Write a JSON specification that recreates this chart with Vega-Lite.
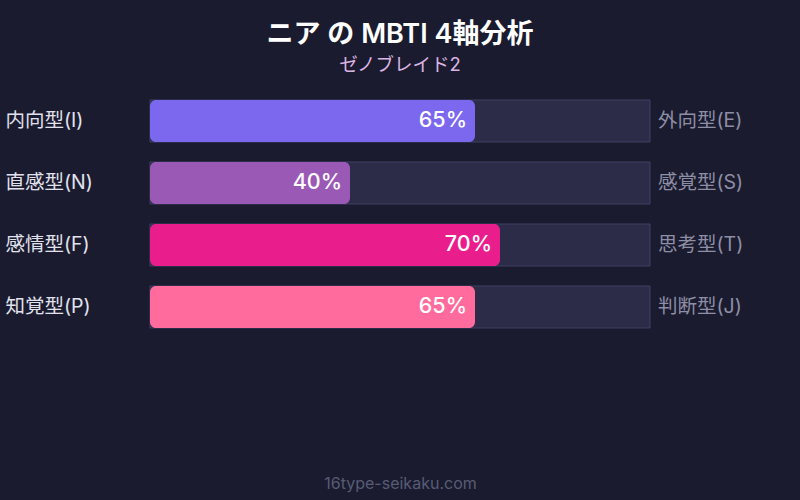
{
  "$schema": "https://vega.github.io/schema/vega-lite/v6.json",
  "width": 500,
  "height": 248,
  "autosize": {"type": "none"},
  "padding": {"left": 150, "top": 90, "right": 150, "bottom": 162},
  "background": "#1a1b2e",
  "title": {
    "text": "ニア の MBTI 4軸分析",
    "subtitle": "ゼノブレイド2",
    "anchor": "middle",
    "frame": "group",
    "font": "Inter, Noto Sans CJK JP",
    "fontSize": 27,
    "fontWeight": 600,
    "color": "#ffffff",
    "subtitleFont": "Inter, Noto Sans CJK JP",
    "subtitleFontSize": 18.5,
    "subtitleColor": "#dcb4e4",
    "subtitlePadding": 7,
    "offset": 15
  },
  "data": {
    "values": [
      {"left": "内向型(I)", "right": "外向型(E)", "value": 65, "label": "65%", "color": "#7b68ee"},
      {"left": "直感型(N)", "right": "感覚型(S)", "value": 40, "label": "40%", "color": "#9b59b6"},
      {"left": "感情型(F)", "right": "思考型(T)", "value": 70, "label": "70%", "color": "#e91e8c"},
      {"left": "知覚型(P)", "right": "判断型(J)", "value": 65, "label": "65%", "color": "#ff6b9d"}
    ]
  },
  "encoding": {
    "y": {
      "field": "left",
      "type": "nominal",
      "sort": null,
      "scale": {"paddingInner": 0.3226, "paddingOuter": 0.1613},
      "axis": {
        "title": null,
        "domain": false,
        "ticks": false,
        "tickSize": 0,
        "labelAlign": "left",
        "labelPadding": 145,
        "labelFont": "Inter, Noto Sans CJK JP",
        "labelFontSize": 19.5,
        "labelColor": "#e2e2ee"
      }
    }
  },
  "layer": [
    {
      "mark": {"type": "bar", "fill": "#2c2b48", "stroke": "#3f4163", "strokeWidth": 1},
      "encoding": {
        "x": {
          "datum": 0,
          "type": "quantitative",
          "scale": {"domain": [0, 100], "nice": false},
          "axis": {
            "title": "16type-seikaku.com",
            "titleFont": "Inter, Noto Sans CJK JP",
            "titleFontSize": 16,
            "titleFontWeight": "normal",
            "titleColor": "#585b76",
            "titlePadding": 137,
            "labels": false,
            "ticks": false,
            "domain": false,
            "grid": false
          }
        },
        "x2": {"datum": 100}
      }
    },
    {
      "mark": {"type": "bar", "cornerRadius": 6},
      "encoding": {
        "x": {"field": "value", "type": "quantitative"},
        "color": {"field": "color", "type": "nominal", "scale": null}
      }
    },
    {
      "mark": {
        "type": "text",
        "align": "right",
        "baseline": "middle",
        "dx": -8,
        "font": "Inter, Noto Sans CJK JP",
        "fontSize": 21.5,
        "fontWeight": 500,
        "color": "#ffffff"
      },
      "encoding": {
        "x": {"field": "value", "type": "quantitative"},
        "text": {"field": "label", "type": "nominal"}
      }
    },
    {
      "mark": {
        "type": "text",
        "align": "left",
        "baseline": "middle",
        "dx": 8,
        "font": "Inter, Noto Sans CJK JP",
        "fontSize": 19.5,
        "color": "#8e8ea6"
      },
      "encoding": {
        "x": {"datum": 100, "type": "quantitative"},
        "text": {"field": "right", "type": "nominal"}
      }
    }
  ],
  "config": {"view": {"stroke": null}}
}
